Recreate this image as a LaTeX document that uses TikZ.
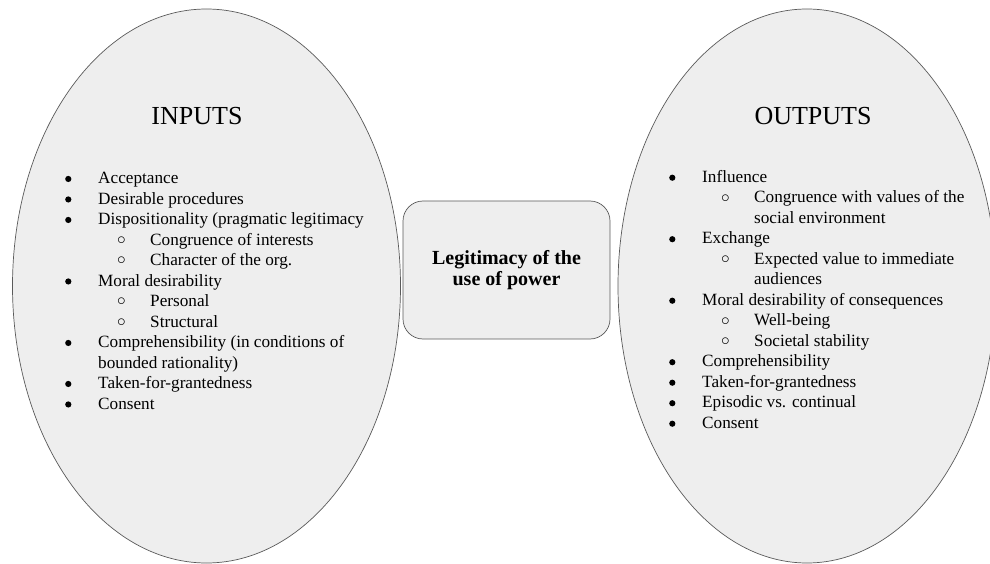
\documentclass[tikz,border=0pt]{standalone}
\usepackage{fontspec}
\setmainfont{Liberation Serif}
\usepackage{tikz}
\usetikzlibrary{shapes.geometric,positioning}
\definecolor{panelfill}{HTML}{EEEEEE}
\definecolor{panelline}{HTML}{5A5A5A}
\newcommand{\dotmark}{\tikz[baseline=-4.6pt]\fill (0pt,0pt) circle (3.1pt);}
\newcommand{\itm}[1]{\makebox[33pt][l]{\dotmark}#1}
\newcommand{\subitm}[1]{\hspace*{52pt}\makebox[33pt][l]{\raisebox{0.1ex}{$\circ$}}#1}

\begin{document}
\begin{tikzpicture}[x=1pt,y=-1pt,
  panel/.style={ellipse,draw=panelline,fill=panelfill,line width=0.7pt,inner sep=0pt,minimum height=554pt},
  hub/.style={draw=panelline,fill=panelfill,line width=0.7pt,rounded corners=20pt,minimum width=207pt,minimum height=138pt,align=center,font=\fontsize{20}{21}\selectfont\bfseries},
  heading/.style={font=\fontsize{26}{30}\selectfont},
  itemlist/.style={anchor=north west,inner sep=0pt,align=left,font=\fontsize{17.2}{20.5}\selectfont}]
\useasboundingbox (0,0) rectangle (990,564);
\clip (0,0) rectangle (990,564);
% the two ellipses and the box in between
\node[panel,minimum width=388pt] (inputs) at (206.5,286) {};
\node[panel,minimum width=378pt] (outputs) at (807,286) {};
\node[hub] (legit) at (506.5,270) {Legitimacy of the\\use of power};
% headings
\node[heading] (intitle) at (197,116) {INPUTS};
\node[heading] (outtitle) at (813,116) {OUTPUTS};
% lists
\node[itemlist] (inlist) at (65,172) {\itm{Acceptance}\\
\itm{Desirable procedures}\\
\itm{Dispositionality (pragmatic legitimacy}\\
\subitm{Congruence of interests}\\
\subitm{Character of the org.}\\
\itm{Moral desirability}\\
\subitm{Personal}\\
\subitm{Structural}\\
\itm{Comprehensibility (in conditions of}\\
\hspace*{33pt}bounded rationality)\\
\itm{Taken-for-grantedness}\\
\itm{Consent}};
\node[itemlist] (outlist) at (669,170) {\itm{Influence}\\
\subitm{Congruence with values of the}\\
\hspace*{85pt}social environment\\
\itm{Exchange}\\
\subitm{Expected value to immediate}\\
\hspace*{85pt}audiences\\
\itm{Moral desirability of consequences}\\
\subitm{Well-being}\\
\subitm{Societal stability}\\
\itm{Comprehensibility}\\
\itm{Taken-for-grantedness}\\
\itm{Episodic vs. continual}\\
\itm{Consent}};
\end{tikzpicture}
\end{document}
